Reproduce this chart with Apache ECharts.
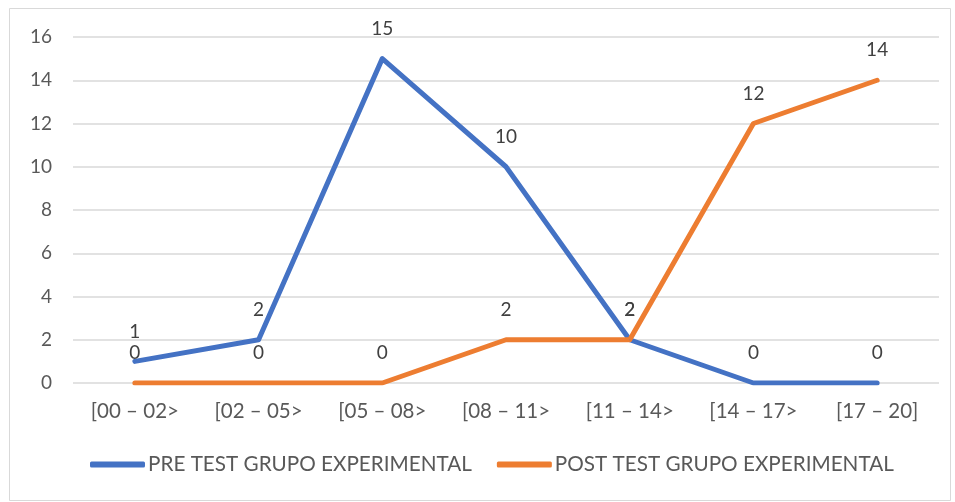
<!DOCTYPE html>
<html>
<head>
<meta charset="utf-8">
<script src="https://cdn.jsdelivr.net/npm/echarts@6/dist/echarts.min.js"></script>
<style>
  html, body { margin: 0; padding: 0; background: #fff; }
  #chart { width: 955px; height: 502px; }
</style>
</head>
<body>
<div id="chart"></div>
<script>
// rangos de nota
const categories = ['[00 – 02>', '[02 – 05>', '[05 – 08>', '[08 – 11>', '[11 – 14>', '[14 – 17>', '[17 – 20]'];
const preTest = [1, 2, 15, 10, 2, 0, 0];
const postTest = [0, 0, 0, 2, 2, 12, 14];
const yTicks = { min: 0, max: 16, interval: 2 };

const FONT = 'Lato, "Open Sans", sans-serif';
const TEXT = '#595959';
const C_PRE = '#4472C4';
const C_POST = '#ED7D31';

const chart = echarts.init(document.getElementById('chart'), null, { renderer: 'canvas' });

function lineSeries(name, data, color) {
  return {
    type: 'line',
    name: name,
    data: data,
    symbol: 'circle',
    symbolSize: 1,
    itemStyle: { color: color },
    lineStyle: { color: color, width: 5, cap: 'round', join: 'round' },
    label: {
      show: true,
      position: 'top',
      distance: 20,
      color: '#404040',
      fontSize: 19,
      fontFamily: FONT
    },
    emphasis: { disabled: true }
  };
}

chart.setOption({
  backgroundColor: '#fff',
  animation: false,
  graphic: [{
    type: 'rect',
    shape: { x: 9.5, y: 8.5, width: 941, height: 492 },
    style: { fill: 'none', stroke: '#d9d9d9', lineWidth: 1 },
    silent: true
  }],
  grid: { left: 73, right: 16, top: 37, bottom: 119 },
  xAxis: {
    type: 'category',
    data: categories,
    boundaryGap: true,
    axisLine: { show: false },
    axisTick: { show: false },
    axisLabel: { color: TEXT, fontSize: 20.5, fontFamily: FONT, margin: 18 }
  },
  yAxis: {
    type: 'value',
    min: yTicks.min,
    max: yTicks.max,
    interval: yTicks.interval,
    axisLine: { show: false },
    axisTick: { show: false },
    axisLabel: { color: TEXT, fontSize: 19, fontFamily: FONT, margin: 21 },
    splitLine: { lineStyle: { color: '#d9d9d9', width: 1.5 } }
  },
  legend: {
    bottom: 22,
    left: 85,
    itemWidth: 55,
    itemHeight: 6,
    itemGap: 25,
    icon: 'roundRect',
    textStyle: { color: TEXT, fontSize: 20.7, fontFamily: FONT, padding: [0, 0, 0, -2] },
    data: ['PRE TEST GRUPO EXPERIMENTAL', 'POST TEST GRUPO EXPERIMENTAL']
  },
  series: [
    lineSeries('PRE TEST GRUPO EXPERIMENTAL', preTest, C_PRE),
    lineSeries('POST TEST GRUPO EXPERIMENTAL', postTest, C_POST)
  ]
});
</script>
</body>
</html>
